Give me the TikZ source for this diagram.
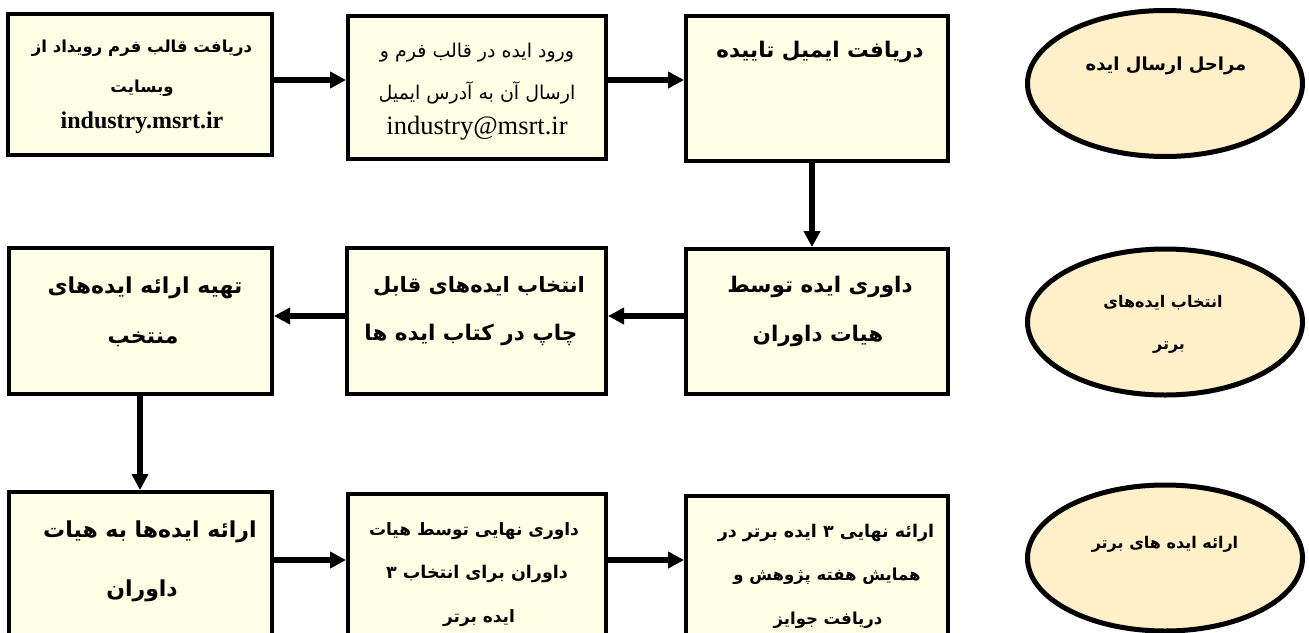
\documentclass[tikz,border=0pt]{standalone}
\usepackage{fontspec}
\setmainfont{Liberation Serif}
\newfontfamily\persfont[Script=Arabic]{DejaVu Sans}
\TeXXeTstate=1
\usetikzlibrary{arrows.meta,fit,shapes.geometric}
\newcommand\FAtext[1]{{\persfont\beginR #1\endR}}
\definecolor{boxfill}{RGB}{255,255,230}
\definecolor{ellfill}{RGB}{255,240,201}
\begin{document}
\begin{tikzpicture}[x=1pt,y=-1pt,
  stepbox/.style={draw=black,line width=4pt,fill=boxfill,inner sep=0pt,rectangle},
  ovalbox/.style={draw=black,line width=5pt,fill=ellfill,ellipse,inner sep=0pt,minimum width=275pt,minimum height=146pt},
  arr/.style={line width=5.5pt,-{Triangle[length=16pt,width=16pt]}},
  txt/.style={inner sep=0pt,anchor=base},
  fbold/.style={font=\fontsize{#1}{#1}\selectfont\bfseries},
  freg/.style={font=\fontsize{#1}{#1}\selectfont}]
\useasboundingbox (0,0) rectangle (1309,632);
% boxes
\node[stepbox,fit={(8,14) (272,155)}] (bA) {};
\node[stepbox,fit={(348,16) (606,159)}] (bB) {};
\node[stepbox,fit={(686,16) (948,161)}] (bC) {};
\node[stepbox,fit={(686,249) (948,394)}] (bD) {};
\node[stepbox,fit={(347,248) (606,394)}] (bE) {};
\node[stepbox,fit={(9,248) (272,394)}] (bF) {};
\node[stepbox,fit={(9,492) (272,720)}] (bG) {};
\node[stepbox,fit={(348,494) (606,720)}] (bH) {};
\node[stepbox,fit={(686,496) (948,720)}] (bI) {};
% ellipses
\node[ovalbox] (el1) at (1165,83.5) {};
\node[ovalbox] (el2) at (1165,322) {};
\node[ovalbox] (el3) at (1165,558) {};
% connector guides
\coordinate (r1) at (0,80);
\coordinate (r2) at (0,316);
\coordinate (r3) at (0,560);
\coordinate (c1) at (812,0);
\coordinate (c2) at (140,0);
\draw[arr] (bA.east |- r1) -- (bB.west |- r1);
\draw[arr] (bB.east |- r1) -- (bC.west |- r1);
\draw[arr] (bC.south -| c1) -- (bD.north -| c1);
\draw[arr] (bD.west |- r2) -- (bE.east |- r2);
\draw[arr] (bE.west |- r2) -- (bF.east |- r2);
\draw[arr] (bF.south -| c2) -- (bG.north -| c2);
\draw[arr] (bG.east |- r3) -- (bH.west |- r3);
\draw[arr] (bH.east |- r3) -- (bI.west |- r3);
% texts box A
\node[txt,fbold=16.5] (tA1) at (142,52) {\FAtext{دریافت قالب فرم رویداد از}};
\node[txt,fbold=16.5] (tA2) at (142,92) {\FAtext{وبسایت}};
\node[txt,fbold=24] (tA3) at (142,128) {industry.msrt.ir};
% box B
\node[txt,freg=19] (tB1) at (477,57) {\FAtext{ورود ایده در قالب فرم و}};
\node[txt,freg=19] (tB2) at (477,99) {\FAtext{ارسال آن به آدرس ایمیل}};
\node[txt,freg=26.5] (tB3) at (477,134) {industry@msrt.ir};
% box C
\node[txt,fbold=21.5] (tC1) at (820,57) {\FAtext{دریافت ایمیل تاییده}};
% box D
\node[txt,fbold=21.5] (tD1) at (820,292) {\FAtext{داوری ایده توسط}};
\node[txt,fbold=21.5] (tD2) at (818,341) {\FAtext{هیات داوران}};
% box E
\node[txt,fbold=21] (tE1) at (479,292) {\FAtext{انتخاب ایده‌های قابل}};
\node[txt,fbold=21.5] (tE2) at (471,340) {\FAtext{چاپ در کتاب ایده ها}};
% box F
\node[txt,fbold=22] (tF1) at (145,293) {\FAtext{تهیه ارائه ایده‌های}};
\node[txt,fbold=22] (tF2) at (143,343) {\FAtext{منتخب}};
% box G
\node[txt,fbold=22] (tG1) at (150,537) {\FAtext{ارائه ایده‌ها به هیات}};
\node[txt,fbold=22] (tG2) at (142,596) {\FAtext{داوران}};
% box H
\node[txt,fbold=17] (tH1) at (474,535) {\FAtext{داوری نهایی توسط هیات}};
\node[txt,fbold=17.5] (tH2) at (477,578) {\FAtext{داوران برای انتخاب ۳}};
\node[txt,fbold=17] (tH3) at (479,622) {\FAtext{ایده برتر}};
% box I
\node[txt,fbold=17.5] (tI1) at (826,537) {\FAtext{ارائه نهایی ۳ ایده برتر در}};
\node[txt,fbold=16.5] (tI2) at (827,580) {\FAtext{همایش هفته پژوهش و}};
\node[txt,fbold=16.5] (tI3) at (828,624) {\FAtext{دریافت جوایز}};
% ellipse texts
\node[txt,fbold=18] (te1) at (1166,70) {\FAtext{مراحل ارسال ایده}};
\node[txt,fbold=16] (te2a) at (1163,307) {\FAtext{انتخاب ایده‌های}};
\node[txt,fbold=16] (te2b) at (1169,349) {\FAtext{برتر}};
\node[txt,fbold=16] (te3) at (1165,548) {\FAtext{ارائه ایده های برتر}};
\end{tikzpicture}
\end{document}
